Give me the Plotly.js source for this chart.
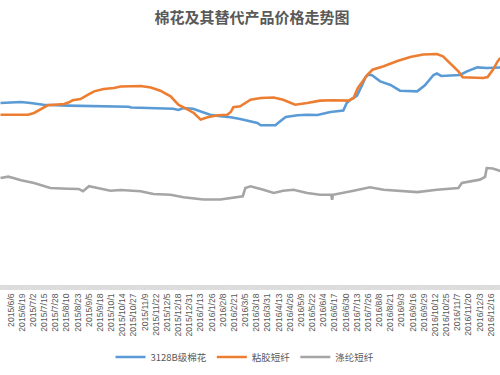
<!DOCTYPE html>
<html>
<head>
<meta charset="utf-8">
<script src="https://cdn.plot.ly/plotly-3.0.1.min.js"></script>
<style>html,body{margin:0;padding:0;background:#fff;}#chart{width:500px;height:375px;}</style>
</head>
<body>
<div id="chart"></div>
<script>
// ---- data (元/吨, estimated) ----
const cottonDates = ['2015-05-25','2015-06-12','2015-06-18','2015-06-29','2015-07-14','2015-08-11','2015-09-18','2015-10-21','2015-10-24','2015-11-19','2015-12-12','2015-12-18','2015-12-24','2016-01-04','2016-01-13','2016-01-24','2016-02-05','2016-02-17','2016-02-28','2016-03-11','2016-03-19','2016-03-23','2016-04-09','2016-04-12','2016-04-21','2016-05-05','2016-05-16','2016-05-28','2016-06-03','2016-06-12','2016-06-27','2016-07-01','2016-07-05','2016-07-13','2016-07-19','2016-07-23','2016-07-26','2016-07-30','2016-08-09','2016-08-21','2016-09-01','2016-09-21','2016-09-30','2016-10-10','2016-10-14','2016-10-19','2016-11-10','2016-11-18','2016-11-30','2016-12-11','2016-12-27'];
const cottonPrice = [13410,13440,13480,13410,13280,13210,13160,13130,13070,13040,12980,12890,13040,12980,12790,12540,12420,12350,12220,12070,11930,11760,11760,11930,12370,12500,12540,12520,12590,12740,12850,13410,13630,13960,14740,15330,15500,15480,15010,14740,14320,14270,14720,15480,15590,15410,15480,15750,16050,16000,16040];

const viscoseDates = ['2015-05-25','2015-06-26','2015-07-03','2015-07-11','2015-07-19','2015-08-07','2015-08-12','2015-08-17','2015-08-26','2015-09-04','2015-09-11','2015-09-22','2015-10-04','2015-10-12','2015-10-24','2015-11-04','2015-11-16','2015-11-27','2015-12-09','2015-12-18','2015-12-29','2016-01-05','2016-01-13','2016-01-21','2016-02-02','2016-02-13','2016-02-17','2016-02-20','2016-02-28','2016-03-07','2016-03-11','2016-03-23','2016-04-07','2016-04-18','2016-05-02','2016-05-16','2016-05-31','2016-06-15','2016-07-03','2016-07-09','2016-07-14','2016-07-19','2016-07-25','2016-07-31','2016-08-13','2016-08-29','2016-09-13','2016-09-28','2016-10-14','2016-10-21','2016-10-29','2016-11-08','2016-11-13','2016-12-07','2016-12-12','2016-12-18','2016-12-24','2016-12-27'];
const viscosePrice = [12540,12540,12670,12980,13240,13330,13440,13610,13700,14020,14270,14440,14520,14630,14670,14670,14550,14320,13900,13280,12910,12670,12180,12350,12500,12540,12740,13090,13160,13530,13650,13780,13810,13650,13280,13410,13580,13610,13580,13780,14520,14960,15500,15870,16130,16520,16810,17000,17040,16870,16370,15750,15310,15260,15330,15850,16520,16750];

const polyesterDates = ['2015-05-25','2015-06-03','2015-06-09','2015-06-18','2015-07-03','2015-07-11','2015-07-22','2015-08-11','2015-08-24','2015-08-29','2015-09-05','2015-09-15','2015-09-30','2015-10-12','2015-10-24','2015-11-04','2015-11-19','2015-12-09','2015-12-24','2016-01-16','2016-02-05','2016-02-20','2016-03-02','2016-03-05','2016-03-11','2016-03-26','2016-04-07','2016-04-18','2016-04-30','2016-05-16','2016-05-31','2016-06-13','2016-06-14','2016-06-15','2016-06-27','2016-07-09','2016-07-20','2016-07-28','2016-08-13','2016-09-05','2016-09-21','2016-10-14','2016-11-08','2016-11-12','2016-12-03','2016-12-09','2016-12-11','2016-12-18','2016-12-27'];
const polyesterPrice = [7850,7950,7850,7680,7480,7310,7110,7060,7040,6870,7240,7110,6910,6960,6890,6870,6670,6610,6420,6260,6260,6370,6500,7110,7240,6980,6740,6910,6980,6740,6610,6610,6240,6610,6740,6910,7060,7160,6980,6910,6810,6980,7110,7480,7730,7930,8590,8560,8370];

const seriesNames = ['3128B级棉花', '粘胶短纤', '涤纶短纤'];
const seriesColors = ['#5B9BD5', '#ED7D31', '#A5A5A5'];

const tickLabels = ['2015/5/24','2015/6/6','2015/6/19','2015/7/2','2015/7/15','2015/7/28','2015/8/10','2015/8/23','2015/9/5','2015/9/18','2015/10/1','2015/10/14','2015/10/27','2015/11/9','2015/11/22','2015/12/5','2015/12/18','2015/12/31','2016/1/13','2016/1/26','2016/2/8','2016/2/21','2016/3/5','2016/3/18','2016/3/31','2016/4/13','2016/4/26','2016/5/9','2016/5/22','2016/6/4','2016/6/17','2016/6/30','2016/7/13','2016/7/26','2016/8/8','2016/8/21','2016/9/3','2016/9/16','2016/9/29','2016/10/12','2016/10/25','2016/11/7','2016/11/20','2016/12/3','2016/12/16','2016/12/29'];

const titleText = '棉花及其替代产品价格走势图';

// ---- chart ----
const xs = [cottonDates, viscoseDates, polyesterDates];
const ys = [cottonPrice, viscosePrice, polyesterPrice];
const traces = seriesNames.map((name, i) => ({
  type: 'scatter', mode: 'lines', name: name,
  x: xs[i], y: ys[i],
  line: {color: seriesColors[i], width: 2.6}
}));

const tickVals = tickLabels.map(s => s.replace(/\//g, '-'));
const txtColor = '#595959';

const layout = {
  width: 500, height: 375,
  margin: {l: 0, r: 0, t: 42, b: 90, pad: 0},
  paper_bgcolor: '#ffffff', plot_bgcolor: '#ffffff',
  showlegend: true,
  title: {
    text: titleText, x: 0.504, xanchor: 'center', xref: 'paper',
    yref: 'container', y: 1 - 18/375, yanchor: 'middle',
    font: {family: '"Noto Sans CJK SC", sans-serif', size: 15, color: txtColor, weight: 'bold'}
  },
  xaxis: {
    type: 'date',
    range: ['2015-05-24 10:00', '2016-12-26 10:00'],
    tickmode: 'array', tickvals: tickVals, ticktext: tickLabels,
    tickangle: -90,
    tickfont: {family: '"Liberation Sans", Arial, sans-serif', size: 8.6, color: txtColor},
    ticks: 'outside', ticklen: 4, tickcolor: '#d9d9d9', tickwidth: 1,
    minor: {ticks: 'outside', ticklen: 4, tickcolor: '#dddddd', tickwidth: 1, dtick: 86400000, tick0: '2015-05-24', showgrid: false},
    showline: true, linecolor: '#d9d9d9', linewidth: 1,
    showgrid: false, zeroline: false, fixedrange: true, automargin: false
  },
  yaxis: {
    range: [-74, 17926], visible: false, showgrid: false, zeroline: false, fixedrange: true
  },
  legend: {
    orientation: 'h', x: 0.49, xanchor: 'center', y: (285 - 357) / 243, yanchor: 'middle',
    font: {family: '"Noto Sans CJK SC", sans-serif', size: 9.5, color: txtColor},
    bgcolor: 'rgba(0,0,0,0)', itemwidth: 30, traceorder: 'normal'
  }
};

Plotly.newPlot('chart', traces, layout, {staticPlot: true, displayModeBar: false});
</script>
</body>
</html>
